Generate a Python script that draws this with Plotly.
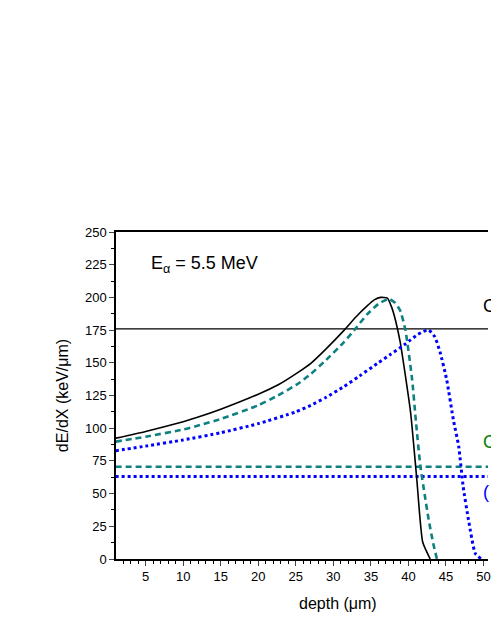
import plotly.graph_objects as go

# solid black curve
depth_a = [1, 5, 10, 12, 15, 20, 22.6, 25.3, 27, 29, 31.45, 33, 34.5, 35.5, 36.3,
           37.2, 37.8, 38.3, 38.9, 39.6, 40.3, 41.1, 41.9, 42.9]
dedx_a = [92.3, 97.5, 105, 108.5, 114.5, 126, 133, 142.7, 149.6, 160.5, 175, 185, 193.5, 198.3, 200,
          199.5, 192, 182, 166, 140, 111.6, 62, 13, 0]

# dashed teal curve
depth_b = [1, 5, 10, 12, 15, 20, 22.6, 25.3, 27, 29, 31.45, 33, 34.5, 36, 37.4,
           38.2, 38.9, 39.6, 40.5, 41.0, 41.6, 42.2, 42.7, 43.3, 43.8]
dedx_b = [89.7, 93.5, 99, 102, 107, 117.5, 125, 134, 141.5, 152, 166, 176.5, 187, 195, 198.8,
          196, 190, 175, 137, 105, 70.6, 48, 30, 12, 0]

# dotted blue curve
depth_c = [1, 5, 10, 15, 20, 25, 27, 29, 31.45, 33.5, 35.9, 37.5, 39.4, 40.3,
           41.2, 42, 42.7, 43.5, 44.2, 45.1, 46, 46.7, 47.3, 48, 48.9, 49.7]
dedx_c = [82.8, 86.3, 91, 96.5, 103.5, 112.5, 117.5, 123.5, 132, 140, 149.6, 156, 163.6, 167.5,
          171.5, 174, 175, 170, 158.5, 137, 106, 86, 55, 30, 4.3, 0]

# horizontal levels
level_a = 176
level_b = 70.5
level_c = 63
x_span = [1, 50.6]

teal = '#0f8080'
blue = '#0000ff'

fig = go.Figure()
fig.add_trace(go.Scatter(x=x_span, y=[level_a, level_a], mode='lines',
                         line=dict(color='black', width=1.3)))
fig.add_trace(go.Scatter(x=x_span, y=[level_b, level_b], mode='lines',
                         line=dict(color=teal, width=2.6, dash='6px,4px')))
fig.add_trace(go.Scatter(x=x_span, y=[level_c, level_c], mode='lines',
                         line=dict(color=blue, width=3, dash='dot')))
fig.add_trace(go.Scatter(x=depth_a, y=dedx_a, mode='lines',
                         line=dict(color='black', width=1.6, shape='spline', smoothing=0.5)))
fig.add_trace(go.Scatter(x=depth_b, y=dedx_b, mode='lines',
                         line=dict(color=teal, width=2.6, dash='6px,4px',
                                   shape='spline', smoothing=0.5)))
fig.add_trace(go.Scatter(x=depth_c, y=dedx_c, mode='lines',
                         line=dict(color=blue, width=3, dash='dot',
                                   shape='spline', smoothing=0.5)))

fig.add_annotation(x=5.5, y=225, xanchor='left', yanchor='middle', showarrow=False,
                   text='E<sub>α</sub> = 5.5 MeV', font=dict(size=18, color='black'))
# labels at the right edge, mostly cut off in the original
for yy, txt, col in [(193.5, 'C', 'black'), (89.5, 'C', 'green'), (51.5, '(', 'blue')]:
    fig.add_annotation(x=49.7, y=yy, xanchor='left', yanchor='middle', showarrow=False,
                       text=txt, font=dict(size=18, color=col))

# x title sits at the centre of the full (cropped) axis, not of the visible part
fig.add_annotation(x=30.6, xref='x', y=0, yref='paper', yshift=-44, yanchor='middle',
                   showarrow=False, text='depth (μm)', font=dict(size=16, color='black'))

fig.update_layout(
    width=491, height=635,
    margin=dict(l=116, r=0, t=232, b=76),
    plot_bgcolor='white', paper_bgcolor='white',
    showlegend=False,
    font=dict(family='Liberation Sans, Arial, sans-serif', size=13, color='black'),
    xaxis=dict(
        range=[1.05, 50.6], tick0=0, dtick=5, ticks='outside', ticklen=5, tickwidth=1.3,
        showline=True, linecolor='black', linewidth=1.5, mirror=True,
        showgrid=False, zeroline=False, ticklabeloverflow='allow',
        minor=dict(dtick=1, ticks='outside', ticklen=3, tickwidth=1, tickcolor='black'),
    ),
    yaxis=dict(
        range=[0, 250], dtick=25, ticks='outside', ticklen=5, tickwidth=1.3,
        showline=True, linecolor='black', linewidth=1.5,
        showgrid=False, zeroline=False,
        minor=dict(dtick=12.5, ticks='outside', ticklen=3, tickwidth=1, tickcolor='black'),
        title=dict(text='dE/dX (keV/μm)', font=dict(size=16), standoff=12),
    ),
)

# drop the default page margin so the figure fills the window
fig.write_html('out.html', config={'displayModeBar': False},
               post_script="document.body.style.margin='0';")
